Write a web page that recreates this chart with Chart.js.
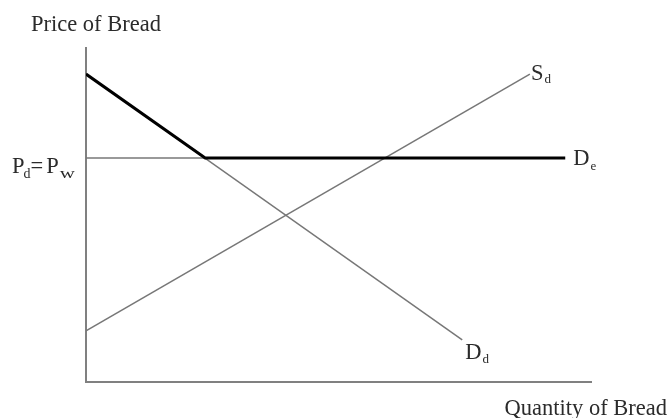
<!DOCTYPE html>
<html>
<head>
<meta charset="utf-8">
<script src="https://cdn.jsdelivr.net/npm/chart.js@4"></script>
<style>
  html, body { margin: 0; padding: 0; background: #fff; }
  #wrap { width: 669px; height: 418px; }
</style>
</head>
<body>
<div id="wrap"><canvas id="tariffChart" width="669" height="418"></canvas></div>
<script>
// quantity / price points (axis runs 0..100 each way)
const supplyQ = [0, 87.9];
const supplyP = [15.3, 92.2];
const domDemandQ = [0, 74.5];
const domDemandP = [92.2, 12.6];
const effDemandQ = [0, 23.6, 94.9];
const effDemandP = [92.2, 67.1, 67.1];
const worldPriceQ = [0, 23.6];
const worldPriceP = [67.1, 67.1];

const axisTitles = ['Price of Bread', 'Quantity of Bread'];

function toPoints(qs, ps) {
    return qs.map((q, i) => ({ x: q, y: ps[i] }));
}

const SERIF = '"Liberation Serif", "Times New Roman", serif';
const TEXT_COLOR = '#2b2b2b';
const THIN_COLOR = '#777';

// draw text made of pieces; size, vertical shift, gap and stretch per piece
function drawPieces(ctx, x, y, pieces) {
    let cx = x;
    pieces.forEach(p => {
        const size = p.size || 22.5;
        const sx = p.sx || 1;
        cx += p.gap || 0;
        ctx.font = size + 'px ' + SERIF;
        ctx.save();
        ctx.translate(cx, y + (p.dy || 0));
        ctx.scale(sx, 1);
        ctx.fillText(p.t, 0, 0);
        ctx.restore();
        cx += ctx.measureText(p.t).width * sx;
    });
}

const labelPlugin = {
    id: 'labelPlugin',
    afterDraw(chart) {
        const ctx = chart.ctx;
        const xs = chart.scales.x;
        const ys = chart.scales.y;
        const area = chart.chartArea;
        ctx.save();
        ctx.fillStyle = TEXT_COLOR;
        ctx.textBaseline = 'alphabetic';
        ctx.textAlign = 'left';

        // axis titles
        ctx.font = '22.5px ' + SERIF;
        ctx.fillText(axisTitles[0], area.left - 55, area.top - 17);
        ctx.textAlign = 'right';
        ctx.fillText(axisTitles[1], chart.width - 2, area.bottom + 33);
        ctx.textAlign = 'left';

        // world price label on the axis
        const pw = ys.getPixelForValue(worldPriceP[0]);
        drawPieces(ctx, 12, pw + 15, [
            { t: 'P' },
            { t: 'd', size: 14, dy: 5, gap: -1 },
            { t: '=' },
            { t: 'P', gap: 3 },
            { t: 'w', size: 14, dy: 5, sx: 1.5, gap: 1 }
        ]);

        // curve labels at the end of each line
        const sEnd = supplyQ.length - 1;
        drawPieces(ctx, xs.getPixelForValue(supplyQ[sEnd]) + 1, ys.getPixelForValue(supplyP[sEnd]) + 6,
            [{ t: 'S' }, { t: 'd', size: 13, dy: 3, gap: 1 }]);
        const dEnd = domDemandQ.length - 1;
        drawPieces(ctx, xs.getPixelForValue(domDemandQ[dEnd]) + 3, ys.getPixelForValue(domDemandP[dEnd]) + 19,
            [{ t: 'D' }, { t: 'd', size: 13, dy: 4, gap: 1 }]);
        const eEnd = effDemandQ.length - 1;
        drawPieces(ctx, xs.getPixelForValue(effDemandQ[eEnd]) + 8, ys.getPixelForValue(effDemandP[eEnd]) + 7,
            [{ t: 'D' }, { t: 'e', size: 13, dy: 5, gap: 1 }]);
        ctx.restore();
    }
};

const ctx = document.getElementById('tariffChart').getContext('2d');
new Chart(ctx, {
    type: 'scatter',
    data: {
        datasets: [
            {
                label: 'D_e',
                data: toPoints(effDemandQ, effDemandP),
                showLine: true,
                borderColor: '#000',
                borderWidth: 3,
                pointRadius: 0,
                order: 0
            },
            {
                label: 'P_w',
                data: toPoints(worldPriceQ, worldPriceP),
                showLine: true,
                borderColor: THIN_COLOR,
                borderWidth: 1.5,
                pointRadius: 0,
                order: 1
            },
            {
                label: 'D_d',
                data: toPoints(domDemandQ, domDemandP),
                showLine: true,
                borderColor: THIN_COLOR,
                borderWidth: 1.5,
                pointRadius: 0,
                order: 1
            },
            {
                label: 'S_d',
                data: toPoints(supplyQ, supplyP),
                showLine: true,
                borderColor: THIN_COLOR,
                borderWidth: 1.5,
                pointRadius: 0,
                order: 1
            }
        ]
    },
    options: {
        responsive: false,
        animation: false,
        layout: {
            padding: { left: 86, right: 78, top: 48, bottom: 36 }
        },
        scales: {
            x: {
                type: 'linear',
                min: 0,
                max: 100,
                grid: { display: false, drawTicks: false },
                border: { display: true, color: '#808080', width: 2 },
                ticks: { display: false }
            },
            y: {
                type: 'linear',
                min: 0,
                max: 100,
                grid: { display: false, drawTicks: false },
                border: { display: true, color: '#808080', width: 2 },
                ticks: { display: false }
            }
        },
        plugins: {
            legend: { display: false },
            tooltip: { enabled: false }
        }
    },
    plugins: [labelPlugin]
});
</script>
</body>
</html>
